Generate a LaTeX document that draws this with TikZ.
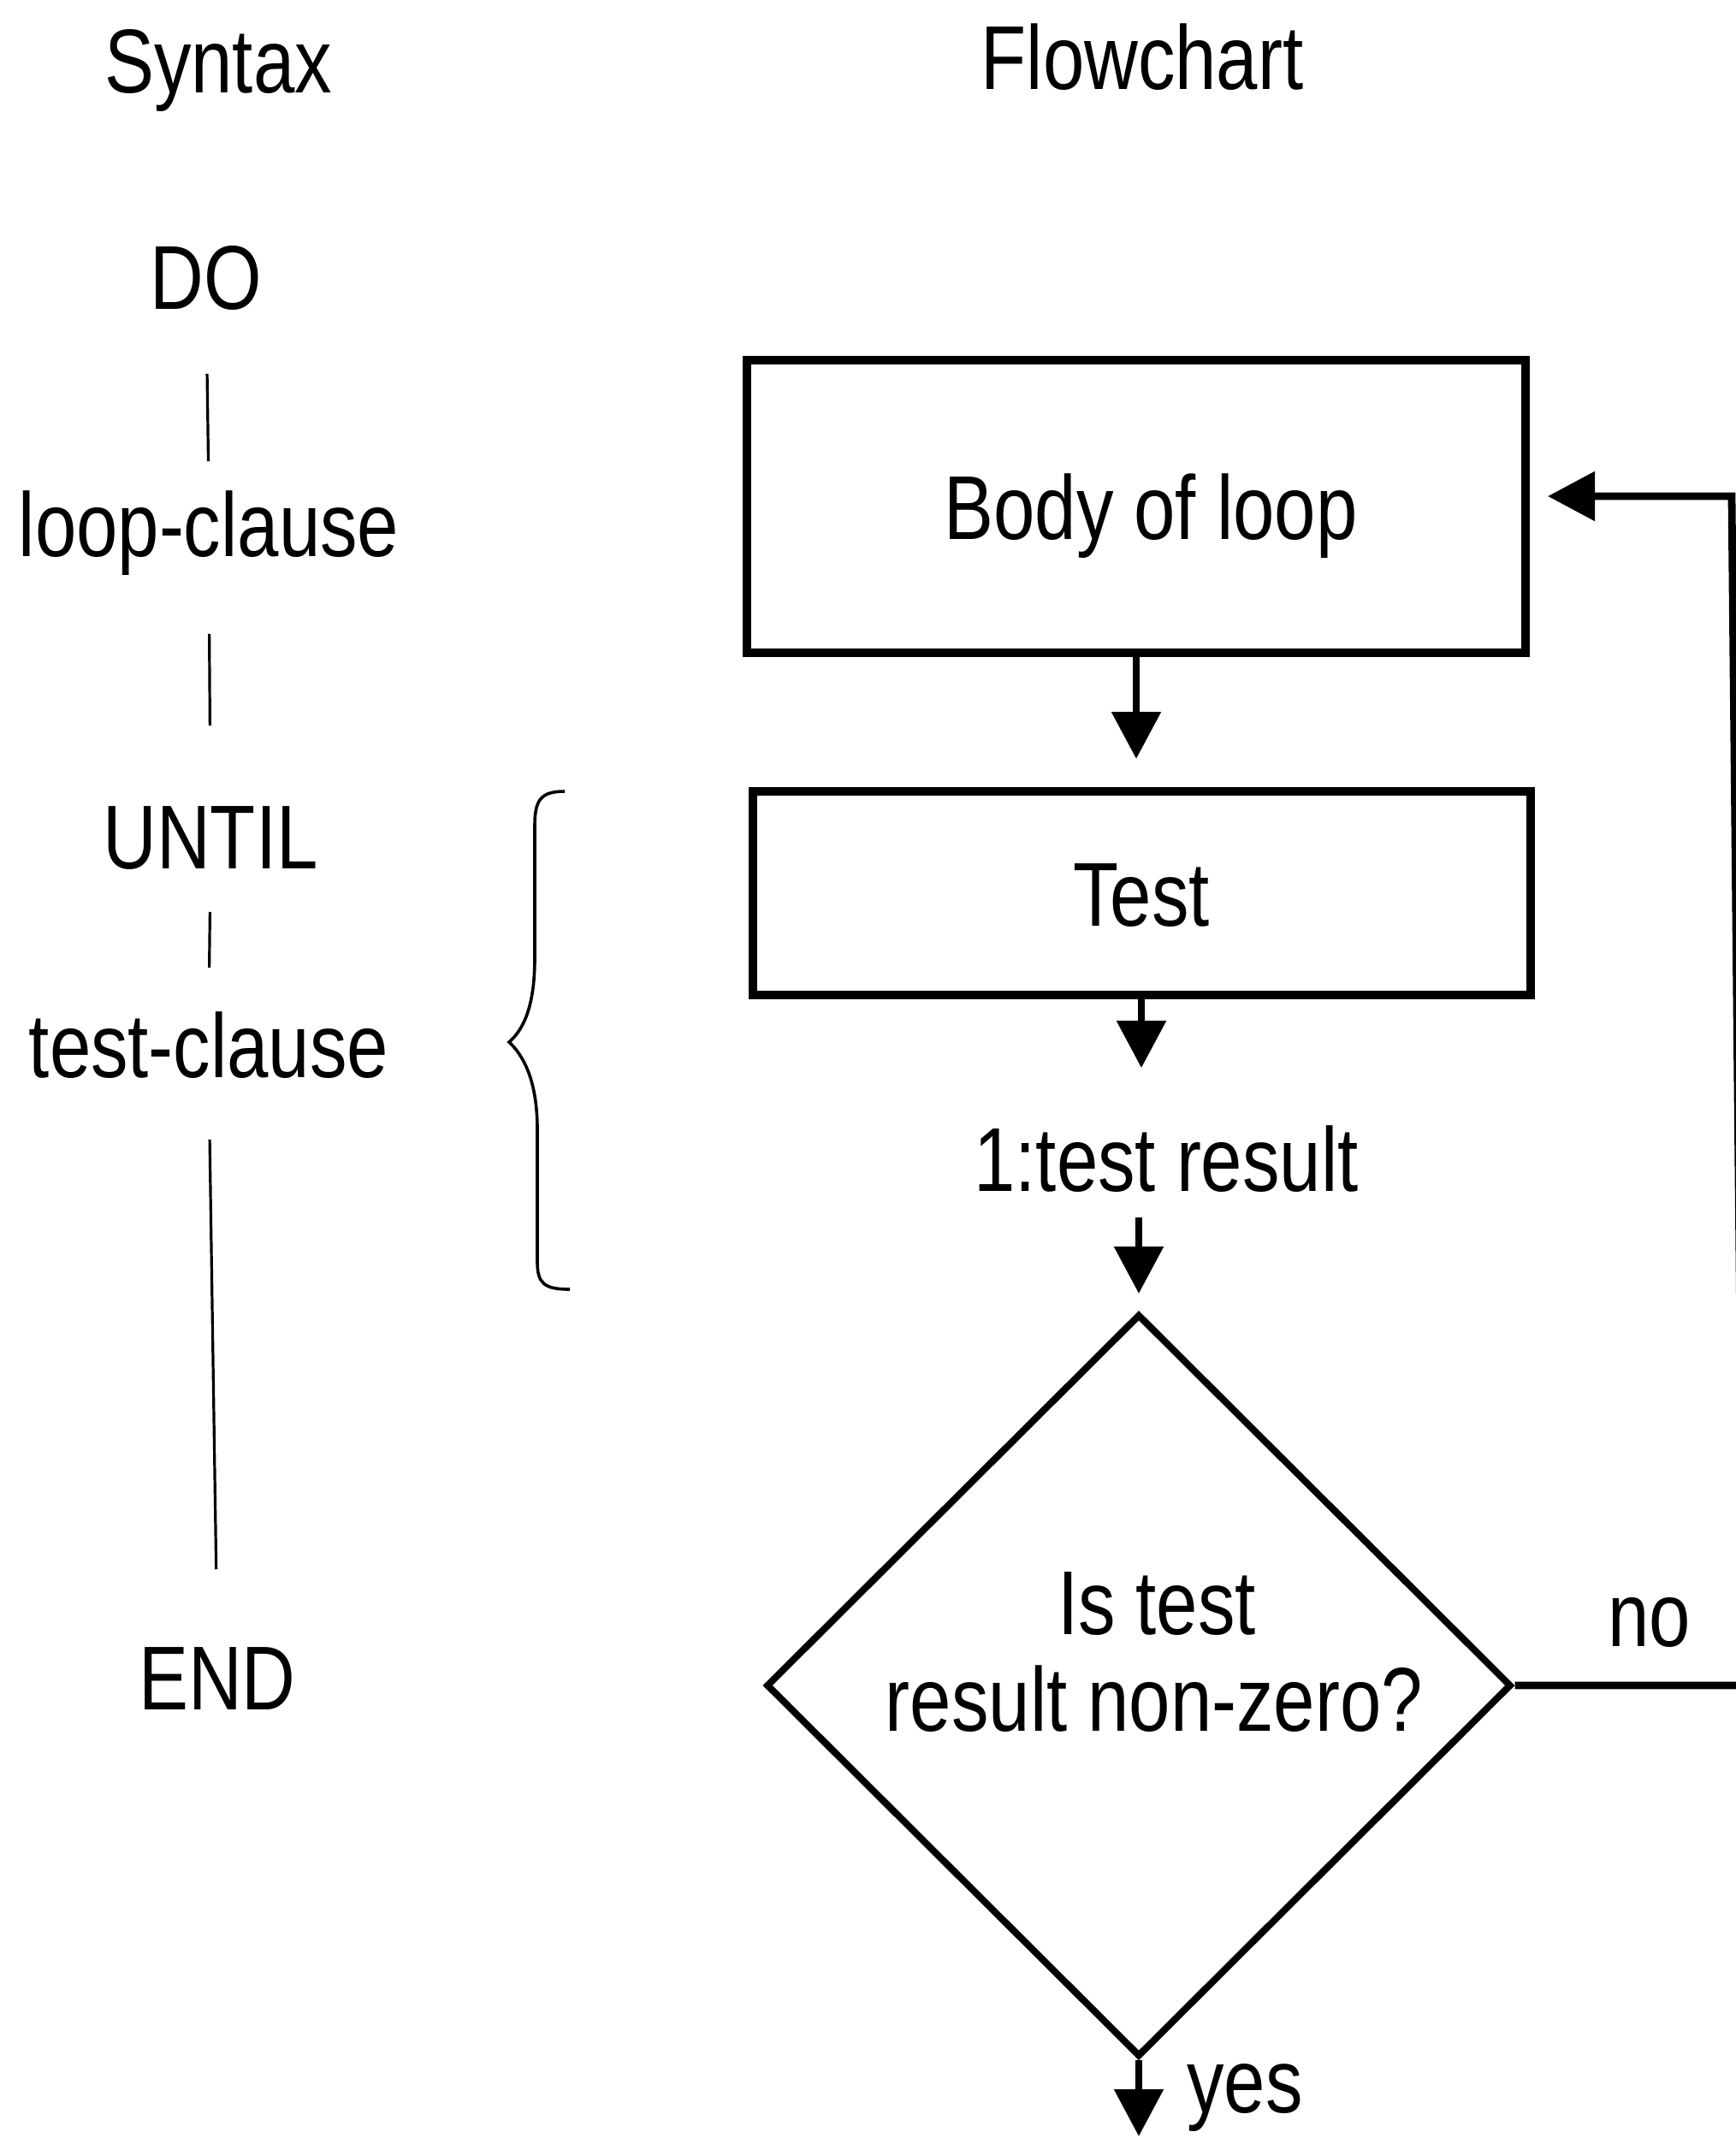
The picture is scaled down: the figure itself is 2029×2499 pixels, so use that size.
\documentclass[tikz,border=0pt]{standalone}
\usepackage{fontspec}
\setmainfont{Liberation Sans}[FakeStretch=0.82]
\usetikzlibrary{arrows.meta,shapes.geometric}
\begin{document}
\begin{tikzpicture}[x=0.25pt,y=-0.25pt,
  every node/.style={font=\fontsize{26.5pt}{28.25pt}\selectfont, inner sep=0pt, text height=19pt, text depth=0pt},
  lbl/.style={anchor=base},
  stepbox/.style={draw, rectangle, line width=2.5pt},
  decision/.style={draw, diamond, line width=2pt},
  arr/.style={line width=2.2pt, -{Triangle[length=13.75pt,width=14pt]}},
  thinline/.style={line width=0.8pt},
]
\useasboundingbox (0,0) rectangle (2029,2499);
% syntax column
\node[lbl] (syn) at (255,108) {Syntax};
\node[lbl] (flow) at (1335,104) {Flowchart};
\node[lbl] (do) at (241,361) {DO};
\node[lbl] (loop) at (244,650) {loop-clause};
\node[lbl] (until) at (246,1015) {UNTIL};
\node[lbl] (testc) at (244,1259) {test-clause};
\node[lbl] (endn) at (254,1998) {END};
\draw[thinline, shorten <=18.75pt, shorten >=8.5pt] (do.south) -- (loop.north);
\draw[thinline, shorten <=22.5pt, shorten >=22.5pt] (loop.south) -- (until.north);
\draw[thinline, shorten <=12.5pt, shorten >=12.75pt] (until.south) -- (testc.north);
\draw[thinline, shorten <=18pt, shorten >=21.75pt] (testc.south) -- (endn.north);
% brace
\draw[line width=0.9pt] (660,925) .. controls (632,925) and (625,935) .. (625,965) -- (625,1120)
  .. controls (625,1180) and (610,1205) .. (595,1218)
  .. controls (610,1232) and (628,1260) .. (628,1320) -- (628,1475)
  .. controls (628,1500) and (636,1507) .. (666,1507);
% flowchart
\node[stepbox, minimum width=227.5pt, minimum height=85.5pt] (body) at (1328,592) {\hspace*{8.5pt}Body of loop};
\node[stepbox, minimum width=227.25pt, minimum height=59.5pt] (test) at (1334,1044) {Test};
\node[lbl] (res) at (1363,1392) {1:test result};
\node[decision, minimum width=217.75pt, minimum height=217pt] (dia) at (1331,1970) {};
\node[lbl] (dia1) at (1352,1910) {Is test};
\node[lbl] (dia2) at (1349,2023) {result non-zero?};
\node[lbl] (no) at (1928,1924) {no};
\node[lbl] (yes) at (1455,2469) {yes};
\coordinate (retb) at (2038,1969);
\coordinate (rett) at (2024,580);
\coordinate (bin) at ([yshift=3pt]body.east);
\coordinate (yesend) at (1336,2497);
\draw[arr, shorten >=8.25pt] (body.south) -- (body.south |- test.north);
\draw[arr, shorten >=16.75pt] (test.south) -- (test.south |- res.north);
\draw[arr, shorten <=7.5pt, shorten >=5pt] (res.south -| dia.north) -- (dia.north);
\draw[arr, shorten >=5.25pt] (dia.east) -- (dia.east -| retb) -- (rett) -- (bin);
\draw[arr] (dia.south) -- (dia.south |- yesend);
\end{tikzpicture}
\end{document}
